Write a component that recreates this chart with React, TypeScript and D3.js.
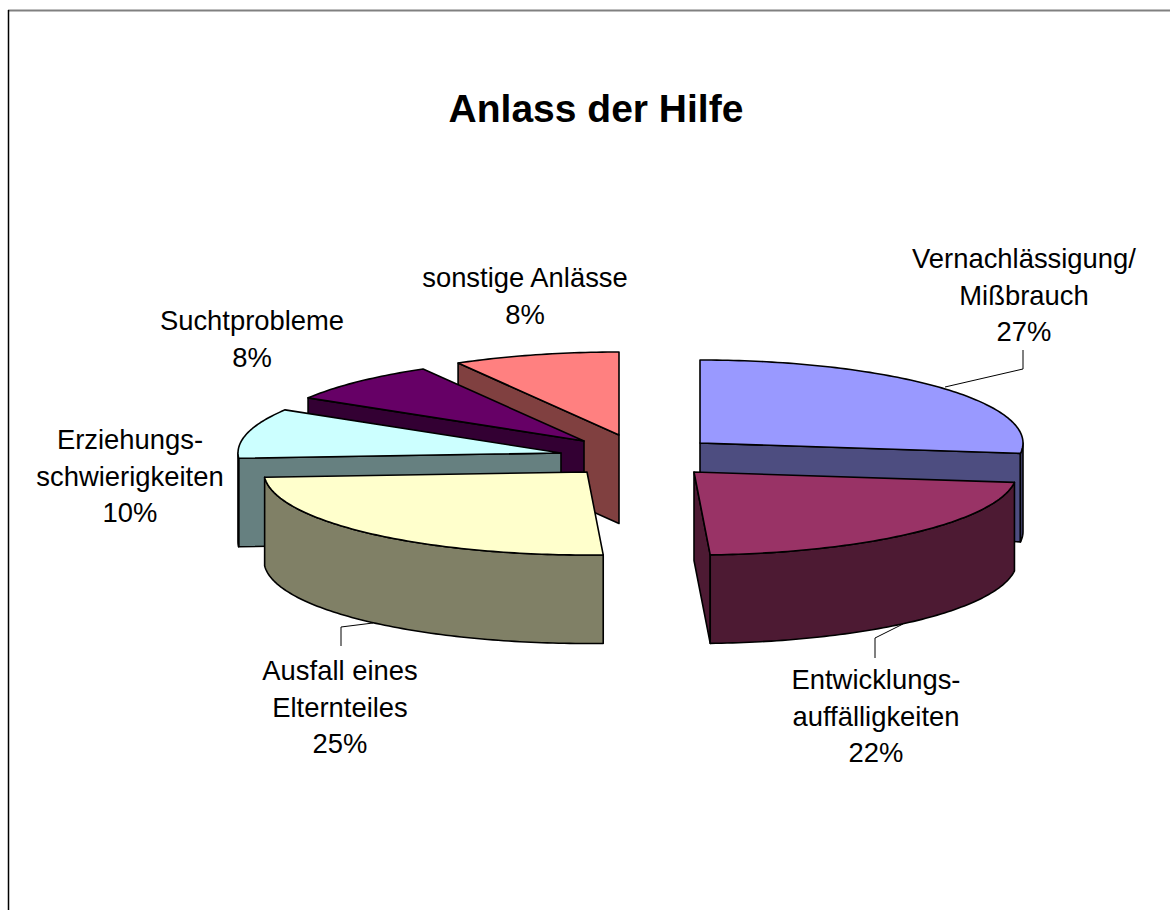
import React from "react";
import * as d3 from "d3";

const categories = ["Vernachlässigung/ Mißbrauch", "Entwicklungsauffälligkeiten", "Ausfall eines Elternteiles", "Erziehungsschwierigkeiten", "Suchtprobleme", "sonstige Anlässe"];
const values = [27, 22.2, 24.8, 9.7, 8, 8.3];
const topColors = ["#9999FF", "#993366", "#FFFFCC", "#CCFFFF", "#660066", "#FF8080"];
const wallColors = ["#4D4D80", "#4D1A33", "#808066", "#668080", "#330033", "#804040"];
const labelLines = [
  ["Vernachlässigung/", "Mißbrauch", "27%"],
  ["Entwicklungs-", "auffälligkeiten", "22%"],
  ["Ausfall eines", "Elternteiles", "25%"],
  ["Erziehungs-", "schwierigkeiten", "10%"],
  ["Suchtprobleme", "8%"],
  ["sonstige Anlässe", "8%"],
];

// layout
const apexes: [number, number][] = [[700, 443], [694, 472], [587, 472], [561, 453], [584, 441], [619, 435]];
const labelAnchors: [number, number][] = [[1024, 268], [876, 689], [340, 680], [130, 449], [252, 330], [525, 287]];
const leaders: [number, number][][] = [
  [[945, 387], [1023, 369], [1023, 350]],
  [[903, 624], [875, 638], [875, 658]],
  [[373, 623], [341, 627], [341, 646]],
  [], [], [],
];
const RX = 323, RY = 83, DEPTH = 88.5, LINE_H = 36.5;
const drawOrder = [5, 4, 3, 0, 1, 2];

const pie = d3.pie<number>().sort(null).startAngle(0).endAngle(2 * Math.PI);
const arcs = pie(values);
const line = d3.line();

function rim(c: [number, number], a: number, dz = 0): [number, number] {
  return [c[0] + RX * Math.sin(a), c[1] - RY * Math.cos(a) + dz];
}
function samples(a0: number, a1: number) {
  const n = Math.max(2, Math.ceil(((a1 - a0) * 180) / Math.PI));
  return d3.range(n + 1).map((i) => a0 + ((a1 - a0) * i) / n);
}

function Slice({ i }: { i: number }) {
  const c = apexes[i];
  const { startAngle: a0, endAngle: a1 } = arcs[i];
  const sw = { stroke: "#000", strokeWidth: 1.6, strokeLinejoin: "round" as const };
  const walls: React.ReactNode[] = [];
  const cutAngle = Math.sin(a1) > 1e-6 ? a1 : Math.sin(a0) < -1e-6 ? a0 : null;
  if (cutAngle !== null) {
    const p = rim(c, cutAngle);
    const q = rim(c, cutAngle, DEPTH);
    walls.push(
      <path key="cut" d={line([c, p, q, [c[0], c[1] + DEPTH], c])! + "Z"} fill={wallColors[i]} {...sw} />
    );
  }
  const w0 = Math.max(a0, Math.PI / 2), w1 = Math.min(a1, (3 * Math.PI) / 2);
  if (w1 > w0) {
    const angles = samples(w0, w1);
    const pts = [...angles.map((a) => rim(c, a)), ...angles.slice().reverse().map((a) => rim(c, a, DEPTH))];
    walls.push(<path key="outer" d={line(pts)! + "Z"} fill={wallColors[i]} {...sw} />);
  }
  const top = [c, ...samples(a0, a1).map((a) => rim(c, a))];
  return (
    <g>
      {walls}
      <path d={line(top)! + "Z"} fill={topColors[i]} {...sw} />
    </g>
  );
}

export default function App() {
  return (
    <svg width={1170} height={910} style={{ position: "absolute", left: 0, top: 0, display: "block", background: "#fff" }}
      fontFamily="'Liberation Sans', Arial, sans-serif">
      <line x1={8} y1={10.5} x2={1170} y2={10.5} stroke="#808080" strokeWidth={2} />
      <line x1={8.5} y1={10} x2={8.5} y2={910} stroke="#000" strokeWidth={1.5} />
      <text x={596} y={122} textAnchor="middle" fontSize={39} fontWeight="bold">Anlass der Hilfe</text>
      {leaders.map((l, i) => l.length ? <path key={i} d={line(l)!} fill="none" stroke="#000" strokeWidth={1} /> : null)}
      {drawOrder.map((i) => <Slice key={categories[i]} i={i} />)}
      {labelLines.map((lines, i) => (
        <text key={i} textAnchor="middle" fontSize={27.4} fill="#000">
          {lines.map((t, j) => (
            <tspan key={j} x={labelAnchors[i][0]} y={labelAnchors[i][1] + j * LINE_H}>{t}</tspan>
          ))}
        </text>
      ))}
    </svg>
  );
}
